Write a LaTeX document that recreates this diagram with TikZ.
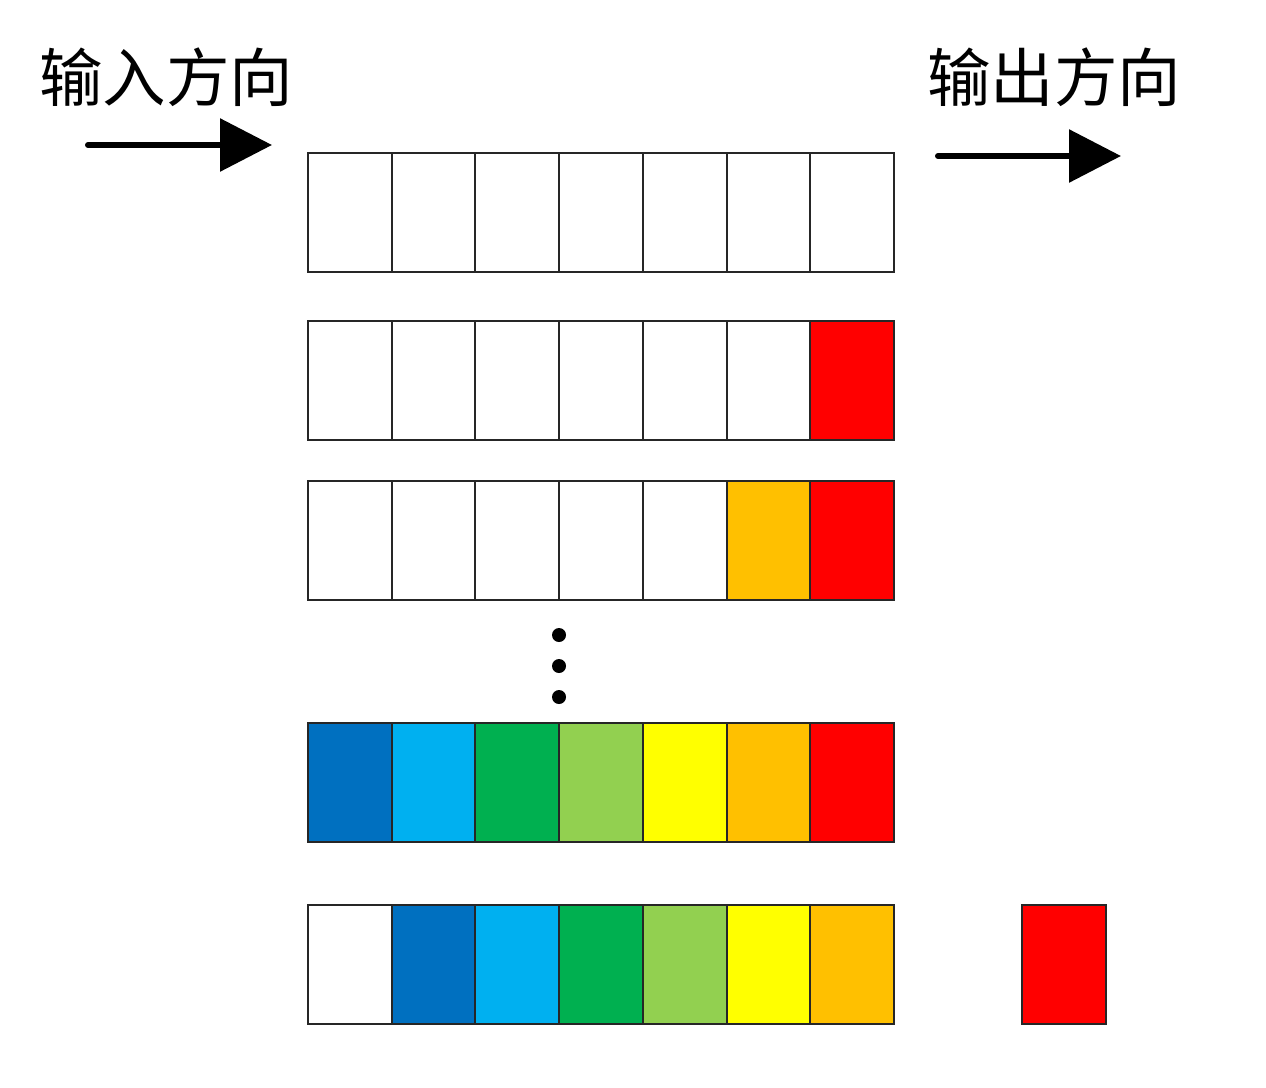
\documentclass[tikz,border=0pt]{standalone}
\usepackage{fontspec}
\newfontfamily\cjk{Noto Sans CJK SC}
\usetikzlibrary{arrows.meta}
\definecolor{cBlue}{HTML}{0070C0}
\definecolor{cCyan}{HTML}{00B0F0}
\definecolor{cGreen}{HTML}{00B050}
\definecolor{cLime}{HTML}{92D050}
\definecolor{cYellow}{HTML}{FFFF00}
\definecolor{cOrange}{HTML}{FFC000}
\definecolor{cRed}{HTML}{FF0000}
\begin{document}
\begin{tikzpicture}[x=1pt,y=-1pt,
  cell/.style={draw=black!85,line width=2pt,minimum width=83.7pt,minimum height=119pt,inner sep=0pt,outer sep=0pt,anchor=north west},
  label/.style={font=\cjk\fontsize{63.5pt}{63.5pt}\selectfont,inner sep=0pt,anchor=base west},
  dirarrow/.style={line width=6pt,line cap=round,-{Triangle[length=52pt,width=52pt]}},
  dot/.style={circle,fill=black,inner sep=0pt,minimum size=14pt}]
\useasboundingbox (0,0) rectangle (1266,1087);
\fill[white] (0,0) rectangle (1266,1087);
% labels
\node[label] (inlabel) at (39,101) {输入方向};
\node[label] (outlabel) at (927,101) {输出方向};
% arrows
\coordinate (a1s) at (88,145);
\coordinate (a1e) at (272,145);
\coordinate (a2s) at (938,156);
\coordinate (a2e) at (1121,156);
\draw[dirarrow] (a1s) -- (a1e);
\draw[dirarrow] (a2s) -- (a2e);
% rows
\def\rowA{white,white,white,white,white,white,white}
\def\rowB{white,white,white,white,white,white,cRed}
\def\rowC{white,white,white,white,white,cOrange,cRed}
\def\rowD{cBlue,cCyan,cGreen,cLime,cYellow,cOrange,cRed}
\def\rowE{white,cBlue,cCyan,cGreen,cLime,cYellow,cOrange}
\foreach \r/\y in {A/153,B/321,C/481,D/723,E/905}{
  \expandafter\let\expandafter\curcols\csname row\r\endcsname
  \foreach \c [count=\i from 0] in \curcols {
    \node[cell,fill=\c] (c\r-\i) at (308+83.7*\i,\y) {};
  }
}
\node[cell,fill=cRed] (out) at (1022,905) {};
% dots
\node[dot] (d1) at (559,635) {};
\node[dot] (d2) at (559,666) {};
\node[dot] (d3) at (559,697) {};
\end{tikzpicture}
\end{document}
